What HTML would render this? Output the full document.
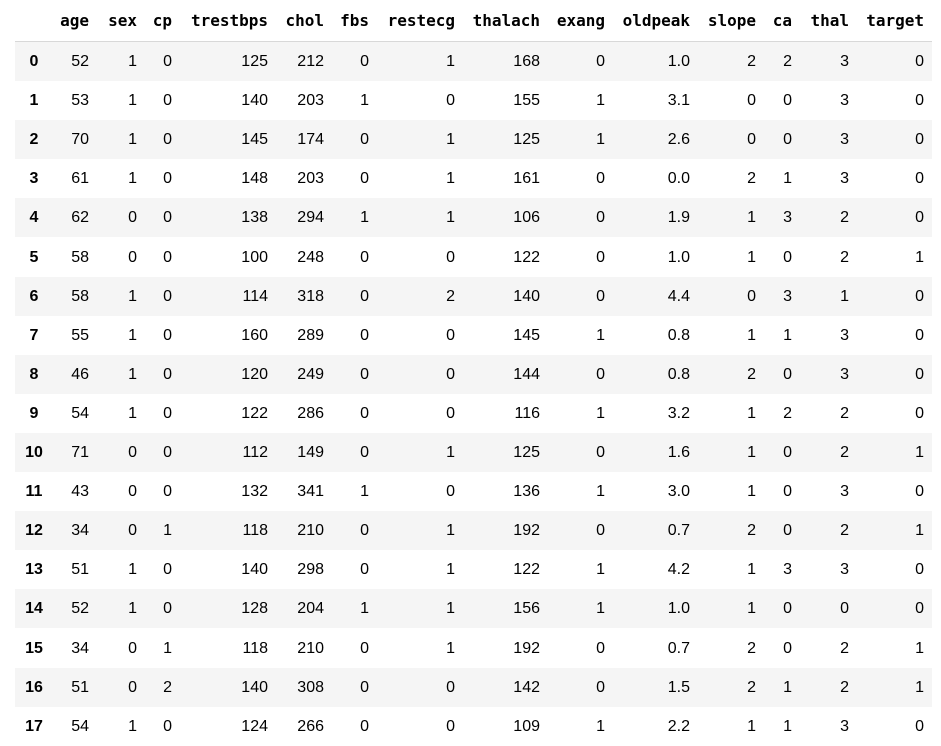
<!DOCTYPE html>
<html><head><meta charset="utf-8"><style>
body{margin:0;width:941px;height:745px;background:#fff;overflow:hidden;position:relative;font-family:"Liberation Sans",sans-serif;color:#000}
.row{position:absolute;left:15px;width:917px;height:39.1px}
.c{position:absolute;font-size:16px;line-height:39px;white-space:nowrap}
.h{font-family:"DejaVu Sans Mono",monospace;font-weight:bold;font-size:16px}
</style></head><body>
<div id="hdr" class="row" style="top:0;height:41px;border-bottom:1px solid #d8d8d8"></div>
<div style="position:absolute;left:15px;top:743px;width:917px;height:2px;background:#ddd"></div>
<script>
const columns=["age","sex","cp","trestbps","chol","fbs","restecg","thalach","exang","oldpeak","slope","ca","thal","target"];
const rights=[89,137,172,268,324,369,455,540,605,690,756,792,849,924];
const rows=[
["52","1","0","125","212","0","1","168","0","1.0","2","2","3","0"],
["53","1","0","140","203","1","0","155","1","3.1","0","0","3","0"],
["70","1","0","145","174","0","1","125","1","2.6","0","0","3","0"],
["61","1","0","148","203","0","1","161","0","0.0","2","1","3","0"],
["62","0","0","138","294","1","1","106","0","1.9","1","3","2","0"],
["58","0","0","100","248","0","0","122","0","1.0","1","0","2","1"],
["58","1","0","114","318","0","2","140","0","4.4","0","3","1","0"],
["55","1","0","160","289","0","0","145","1","0.8","1","1","3","0"],
["46","1","0","120","249","0","0","144","0","0.8","2","0","3","0"],
["54","1","0","122","286","0","0","116","1","3.2","1","2","2","0"],
["71","0","0","112","149","0","1","125","0","1.6","1","0","2","1"],
["43","0","0","132","341","1","0","136","1","3.0","1","0","3","0"],
["34","0","1","118","210","0","1","192","0","0.7","2","0","2","1"],
["51","1","0","140","298","0","1","122","1","4.2","1","3","3","0"],
["52","1","0","128","204","1","1","156","1","1.0","1","0","0","0"],
["34","0","1","118","210","0","1","192","0","0.7","2","0","2","1"],
["51","0","2","140","308","0","0","142","0","1.5","2","1","2","1"],
["54","1","0","124","266","0","0","109","1","2.2","1","1","3","0"]];
const hdr=document.getElementById('hdr');
columns.forEach((c,i)=>{const d=document.createElement('div');d.className='c h';


d.style.right=(932-rights[i])+'px';d.style.top='1px';d.textContent=c;hdr.appendChild(d);});
rows.forEach((r,ri)=>{const row=document.createElement('div');row.className='row';


row.style.top=(42+ri*39.1)+'px';row.style.background=ri%2===0?'#f5f5f5':'#fff';
const ix=document.createElement('div');ix.className='c';


ix.style.left='0px';ix.style.width='38px';ix.style.textAlign='center';ix.style.fontWeight='bold';ix.textContent=ri;row.appendChild(ix);
r.forEach((v,i)=>{const d=document.createElement('div');d.className='c';


d.style.right=(932-rights[i])+'px';d.textContent=v;row.appendChild(d);});
document.body.appendChild(row);});
</script>
</body></html>
